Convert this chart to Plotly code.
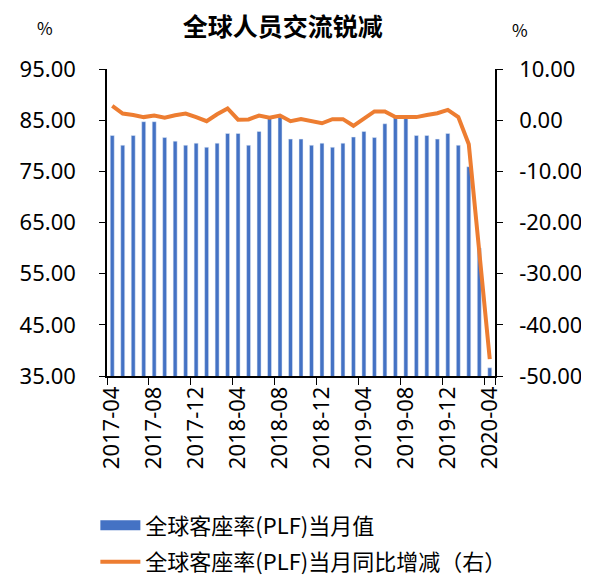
import plotly.graph_objects as go

months = ["2017-04","2017-05","2017-06","2017-07","2017-08","2017-09","2017-10","2017-11","2017-12",
          "2018-01","2018-02","2018-03","2018-04","2018-05","2018-06","2018-07","2018-08","2018-09",
          "2018-10","2018-11","2018-12","2019-01","2019-02","2019-03","2019-04","2019-05","2019-06",
          "2019-07","2019-08","2019-09","2019-10","2019-11","2019-12","2020-01","2020-02","2020-03","2020-04"]
plf = [82.0, 80.1, 82.0, 84.7, 84.7, 81.6, 80.9, 80.1, 80.5,
       79.7, 80.5, 82.4, 82.4, 80.1, 82.8, 85.5, 85.6, 81.3,
       81.3, 80.1, 80.5, 79.7, 80.5, 81.7, 82.8, 81.6, 84.3,
       85.6, 85.6, 82.0, 82.0, 81.3, 82.4, 80.1, 75.9, 60.0, 36.6]
plf_yoy = [2.8, 1.3, 1.0, 0.6, 0.9, 0.5, 0.95, 1.3, 0.6,
           -0.2, 1.15, 2.3, 0.1, 0.15, 0.9, 0.5, 0.9, -0.2,
           0.2, -0.15, -0.6, 0.2, 0.2, -1.1, 0.4, 1.7, 1.7,
           0.6, 0.6, 0.6, 1.0, 1.35, 2.0, 0.6, -4.7, -25.5, -46.7]
tick_labels = months[::4]
left_ticks = [35, 45, 55, 65, 75, 85, 95]
right_ticks = [-50, -40, -30, -20, -10, 0, 10]

name_bar = "全球客座率(PLF)当月值"
name_line = "全球客座率(PLF)当月同比增减（右）"
BLUE = "#4472C4"
ORANGE = "#ED7D31"
FONT = "Noto Sans CJK SC"
NUMFONT = "Noto Sans, Noto Sans CJK SC"

fig = go.Figure()
fig.add_trace(go.Bar(x=months, y=plf, marker_color=BLUE, name=name_bar,
                     showlegend=False, yaxis="y"))
fig.add_trace(go.Scatter(x=months, y=plf_yoy, mode="lines", name=name_line,
                         line=dict(color=ORANGE, width=4), yaxis="y2", showlegend=False))
# legend entries
fig.add_trace(go.Scatter(x=[None], y=[None], mode="lines", name=name_bar, legendgroup="a",
                         line=dict(color=BLUE, width=12), yaxis="y"))
fig.add_trace(go.Scatter(x=[None], y=[None], mode="lines", name=name_line, legendgroup="b",
                         line=dict(color=ORANGE, width=4), yaxis="y2"))

# page body has an 8px default margin, so the figure is 8px smaller than the window
fig.update_layout(
    width=581, height=568,
    margin=dict(l=99, r=94, t=61, b=200, autoexpand=False),
    paper_bgcolor="white", plot_bgcolor="white",
    font=dict(family=FONT, color="black", size=22),
    bargap=0.62,
    title=dict(text="<b>全球人员交流锐减</b>", x=0.473, xanchor="center",
               y=0.966, yanchor="middle", font=dict(size=25, family=FONT)),
    xaxis=dict(type="category", tickmode="array", tickvals=tick_labels, ticktext=tick_labels,
               tickangle=-90, showline=True, linecolor="black", linewidth=1.5,
               ticks="outside", ticklen=7, tickcolor="black", tickson="boundaries",
               showgrid=False, tickfont=dict(size=22, family=NUMFONT), range=[-0.5, 36.5],
               automargin=False),
    yaxis=dict(range=[35, 95], tickvals=left_ticks, ticktext=[f"{v:.2f}" for v in left_ticks],
               showline=True, linecolor="black", linewidth=1.5, ticks="outside", ticklen=6,
               tickcolor="black", showgrid=False, zeroline=False,
               tickfont=dict(size=22, family=NUMFONT), ticklabelstandoff=19, automargin=False),
    yaxis2=dict(range=[-50, 10], tickvals=right_ticks, ticktext=[f"{v:.2f}" for v in right_ticks],
                overlaying="y", side="right", showline=True, linecolor="black", linewidth=1.5,
                ticks="outside", ticklen=6, tickcolor="black", showgrid=False, zeroline=False,
                tickfont=dict(size=22, family=NUMFONT), ticklabelstandoff=12, automargin=False),
    legend=dict(x=-0.03, y=-0.418, xanchor="left", yanchor="top", orientation="v",
                font=dict(size=22, family=FONT), tracegroupgap=5, itemwidth=40,
                bgcolor="rgba(0,0,0,0)"),
    annotations=[
        dict(text="%", xref="paper", yref="paper", x=-0.16, y=1.135, showarrow=False,
             xanchor="center", yanchor="middle", font=dict(size=17)),
        dict(text="%", xref="paper", yref="paper", x=1.065, y=1.13, showarrow=False,
             xanchor="center", yanchor="middle", font=dict(size=17)),
    ],
)

fig.write_html("out.html")
